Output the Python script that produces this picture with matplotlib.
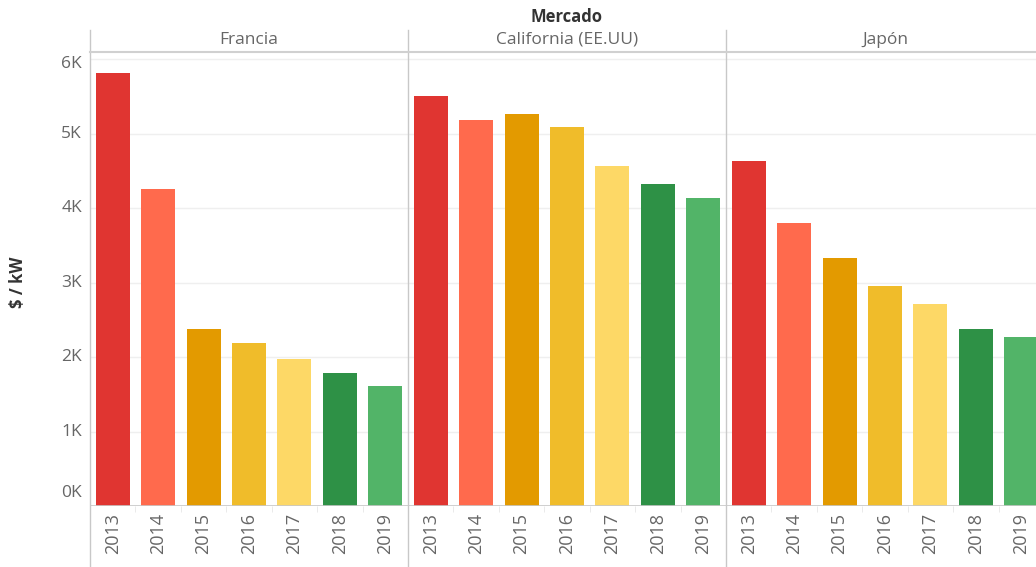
import matplotlib.pyplot as plt
from matplotlib.lines import Line2D

plt.rcParams['font.family'] = ['Open Sans', 'DejaVu Sans']

# data (thousand $ / kW)
markets = ["Francia", "California (EE.UU)", "Japón"]
years = ["2013", "2014", "2015", "2016", "2017", "2018", "2019"]
francia = [5.81, 4.25, 2.38, 2.19, 1.97, 1.79, 1.61]
california = [5.50, 5.18, 5.26, 5.09, 4.56, 4.32, 4.13]
japon = [4.63, 3.80, 3.33, 2.95, 2.71, 2.38, 2.27]
year_colors = ["#E03531", "#FF6A4D", "#E39A00", "#F0BC2A", "#FDD866", "#2E9146", "#52B468"]
y_ticks = [0, 1, 2, 3, 4, 5, 6]

W, H = 1036, 567
fig = plt.figure(figsize=(W / 100, H / 100), dpi=100)

def fx(px):
    return px / W

def fy(py):
    return 1 - py / H

top, base = 52, 506
panel_w = 318
lefts = [90, 408, 726]
text_col = "#666666"
line_col = "#C8C8C8"

for i, (name, vals) in enumerate(zip(markets, [francia, california, japon])):
    ax = fig.add_axes([fx(lefts[i]), fy(base), fx(panel_w), (base - top) / H])
    ax.bar(range(len(years)), vals, width=0.75, color=year_colors, zorder=2)
    ax.set_xlim(-0.5, 6.5)
    ax.set_ylim(0, (base - top) / 74.5)
    for s in ax.spines.values():
        s.set_visible(False)
    ax.set_yticks(y_ticks)
    ax.yaxis.grid(True, color="#EFEFEF", linewidth=1, zorder=0)
    ax.tick_params(axis="y", length=0, labelleft=False)
    ax.set_xticks(range(len(years)))
    ax.set_xticklabels(years, rotation=90, fontsize=13, color=text_col)
    ax.set_xticks([k + 0.5 for k in range(6)], minor=True)
    ax.tick_params(axis="x", which="major", length=0, pad=5)
    ax.tick_params(axis="x", which="minor", length=4, color="#E6E6E6")
    ax.axhline(0, color=line_col, linewidth=1.2, zorder=3)
    fig.text(fx(lefts[i] + panel_w / 2), fy(40), name, ha="center", va="center",
             fontsize=12.5, color=text_col)
    if i == 0:
        for t in y_ticks:
            ypx = base - t * 74.5
            if t == 0:
                ypx = 493
            if t == 6:
                ypx = 64
            fig.text(fx(82), fy(ypx), f"{t}K", ha="right", va="center",
                     fontsize=12.5, color=text_col)

# panel dividers and header line
for xp in [90, 408, 726]:
    fig.add_artist(Line2D([fx(xp), fx(xp)], [fy(30), 0], color=line_col, linewidth=1))
fig.add_artist(Line2D([fx(90), 1], [fy(52), fy(52)], color="#D0D0D0", linewidth=1.5))

fig.text(fx(567), fy(17), "Mercado", ha="center", va="center", fontsize=12,
         fontweight="bold", color="#333333")
fig.text(fx(18), fy(282), "$ / kW", ha="center", va="center", rotation=90,
         fontsize=12, fontweight="bold", color="#333333")

fig.savefig("out.png", dpi=100)
